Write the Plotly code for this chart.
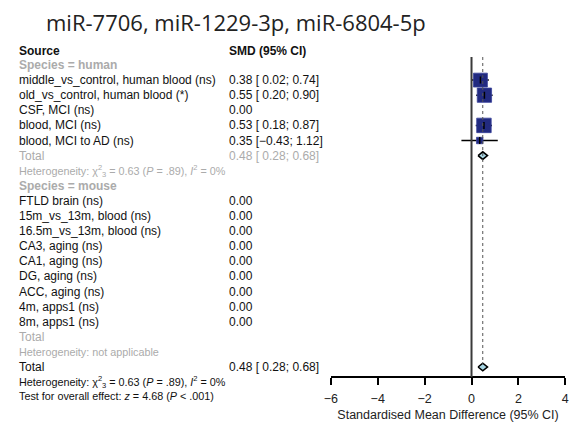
import plotly.graph_objects as go
import math

# ---------------- data ----------------
title_text = "miR-7706, miR-1229-3p, miR-6804-5p"

human_sources = ["middle_vs_control, human blood (ns)", "old_vs_control, human blood (*)",
                 "CSF, MCI (ns)", "blood, MCI (ns)", "blood, MCI to AD (ns)"]
human_smd = [0.38, 0.55, 0.00, 0.53, 0.35]
human_lo = [0.02, 0.20, None, 0.18, -0.43]
human_hi = [0.74, 0.90, None, 0.87, 1.12]
human_total = [0.48, 0.28, 0.68]
human_het = [0.63, 3, ".89", 0]

mouse_sources = ["FTLD brain (ns)", "15m_vs_13m, blood (ns)", "16.5m_vs_13m, blood (ns)",
                 "CA3, aging (ns)", "CA1, aging (ns)", "DG, aging (ns)", "ACC, aging (ns)",
                 "4m, apps1 (ns)", "8m, apps1 (ns)"]
mouse_smd = [0.00] * 9

overall = [0.48, 0.28, 0.68]
overall_het = [0.63, 3, ".89", 0]
overall_z = [4.68, "< .001"]

tick_vals = [-6, -4, -2, 0, 2, 4]
x_title = "Standardised Mean Difference (95% CI)"

# ---------------- layout helpers ----------------
W, H = 586, 429
ROW0, DY = 65.0, 15.1
y_top = -ROW0 / DY
y_bot = (H - ROW0) / DY
def px2row(p):
    return (p - ROW0) / DY

FONT = "Liberation Sans, Arial, Helvetica, sans-serif"
GREY = "#ababab"
BLACK = "#111111"
XL = 10 / W
XV = 224 / W
FS = 12
FS_SMALL = 10.8

def fmt(v):
    return f"{v:.2f}".replace("-", "\u2212")
def ci_text(e, lo, hi):
    if lo is None:
        return fmt(e)
    los = f"{lo:5.2f}".replace("-", "\u2212")
    return f"{fmt(e)} [{los}; {fmt(hi)}]"

fig = go.Figure()
ann = []
def text(x, y, s, color=BLACK, size=FS, bold=False):
    if bold:
        s = f"<b>{s}</b>"
    ann.append(dict(x=x, y=y, xref="paper", yref="y", text=s, showarrow=False,
                    xanchor="left", yanchor="middle",
                    font=dict(family=FONT, size=size, color=color)))

def het_text(h):
    return (f"Heterogeneity: \u03c7<sup>2</sup><sub>{h[1]}</sub> = {h[0]:.2f} "
            f"(<i>P</i> = {h[2]}), <i>I</i><sup>2</sup> = {h[3]}%")

# headers
text(XL, px2row(50.5), "Source", bold=True)
text(XV, px2row(50.5), "SMD (95% CI)", bold=True)

r = 0
text(XL, r, "Species = human", color=GREY, bold=True)
r += 1
study_rows, study_x, study_lo, study_hi, study_size = [], [], [], [], []
ses = [(hi - lo) / 3.92 for lo, hi in zip(human_lo, human_hi) if lo is not None]
wmax = max(1 / s ** 2 for s in ses)
for name, e, lo, hi in zip(human_sources, human_smd, human_lo, human_hi):
    text(XL, r, name)
    text(XV, r, ci_text(e, lo, hi))
    if lo is not None:
        w = 1 / ((hi - lo) / 3.92) ** 2
        study_rows.append(r); study_x.append(e); study_lo.append(lo); study_hi.append(hi)
        study_size.append(14.5 * math.sqrt(w / wmax))
    r += 1
text(XL, r, "Total", color=GREY)
text(XV, r, ci_text(*human_total), color=GREY)
sub_row = r
r += 1
text(XL, r, het_text(human_het), color=GREY, size=FS_SMALL)
r += 1
text(XL, r, "Species = mouse", color=GREY, bold=True)
r += 1
for name, e in zip(mouse_sources, mouse_smd):
    text(XL, r, name)
    text(XV, r, fmt(e))
    r += 1
text(XL, r, "Total", color=GREY)
r += 1
text(XL, r, "Heterogeneity: not applicable", color=GREY, size=FS_SMALL)
r += 1
text(XL, r, "Total")
text(XV, r, ci_text(*overall))
ov_row = r
text(XL, px2row(381.5), het_text(overall_het), size=FS_SMALL)
text(XL, px2row(395.5), f"Test for overall effect: <i>z</i> = {overall_z[0]:.2f} (<i>P</i> {overall_z[1]})",
     size=FS_SMALL)

# title
ann.append(dict(x=233 / W, y=1 - 22 / H, xref="paper", yref="paper", text=title_text,
                showarrow=False, xanchor="center", yanchor="middle",
                font=dict(family="Open Sans, sans-serif", size=22, color="#222222")))

# reference lines
shapes = [
    dict(type="line", xref="x", yref="y", x0=0, x1=0, y0=px2row(57), y1=px2row(377),
         line=dict(color="#3a3a3a", width=2)),
    dict(type="line", xref="x", yref="y", x0=overall[0], x1=overall[0], y0=px2row(57), y1=px2row(364),
         line=dict(color="#555555", width=1, dash="dot")),
]

# CI lines
for yy, lo, hi in zip(study_rows, study_lo, study_hi):
    fig.add_trace(go.Scatter(x=[lo, hi], y=[yy, yy], mode="lines",
                             line=dict(color="black", width=1.5), showlegend=False, hoverinfo="skip"))
# squares
fig.add_trace(go.Scatter(x=study_x, y=study_rows, mode="markers", showlegend=False,
                         marker=dict(symbol="square", size=study_size, color="#222a80", opacity=1,
                                     line=dict(color="#39429a", width=0.8))))
fig.add_trace(go.Scatter(x=study_x, y=study_rows, mode="markers", showlegend=False, hoverinfo="skip",
                         marker=dict(symbol="line-ns", size=5, line=dict(color="black", width=1.5))))
# diamonds
hh = 0.25
for (e, lo, hi), yy in [(human_total, sub_row), (overall, ov_row)]:
    fig.add_trace(go.Scatter(x=[lo, e, hi, e, lo], y=[yy, yy - hh, yy, yy + hh, yy],
                             mode="lines", fill="toself", fillcolor="#a9d8e6",
                             line=dict(color="black", width=1.6), showlegend=False))

fig.update_layout(
    width=W, height=H, margin=dict(l=0, r=0, t=0, b=0),
    paper_bgcolor="white", plot_bgcolor="white",
    annotations=ann, shapes=shapes,
    xaxis=dict(domain=[330 / W, 569 / W], range=[-6, 4], anchor="free", position=1 - 377 / H,
               showline=True, linecolor="black", linewidth=1.5, ticks="outside", ticklen=7,
               tickwidth=1.5, tickcolor="black", tickvals=tick_vals, showgrid=False, zeroline=False,
               ticklabelstandoff=3,
               tickfont=dict(family=FONT, size=12.5, color="#222222"),
               title=dict(text=x_title, font=dict(family=FONT, size=12.5, color="#222222"), standoff=4)),
    yaxis=dict(domain=[0, 1], range=[y_bot, y_top], visible=False, showgrid=False, zeroline=False),
)

fig.write_html("out.html")
